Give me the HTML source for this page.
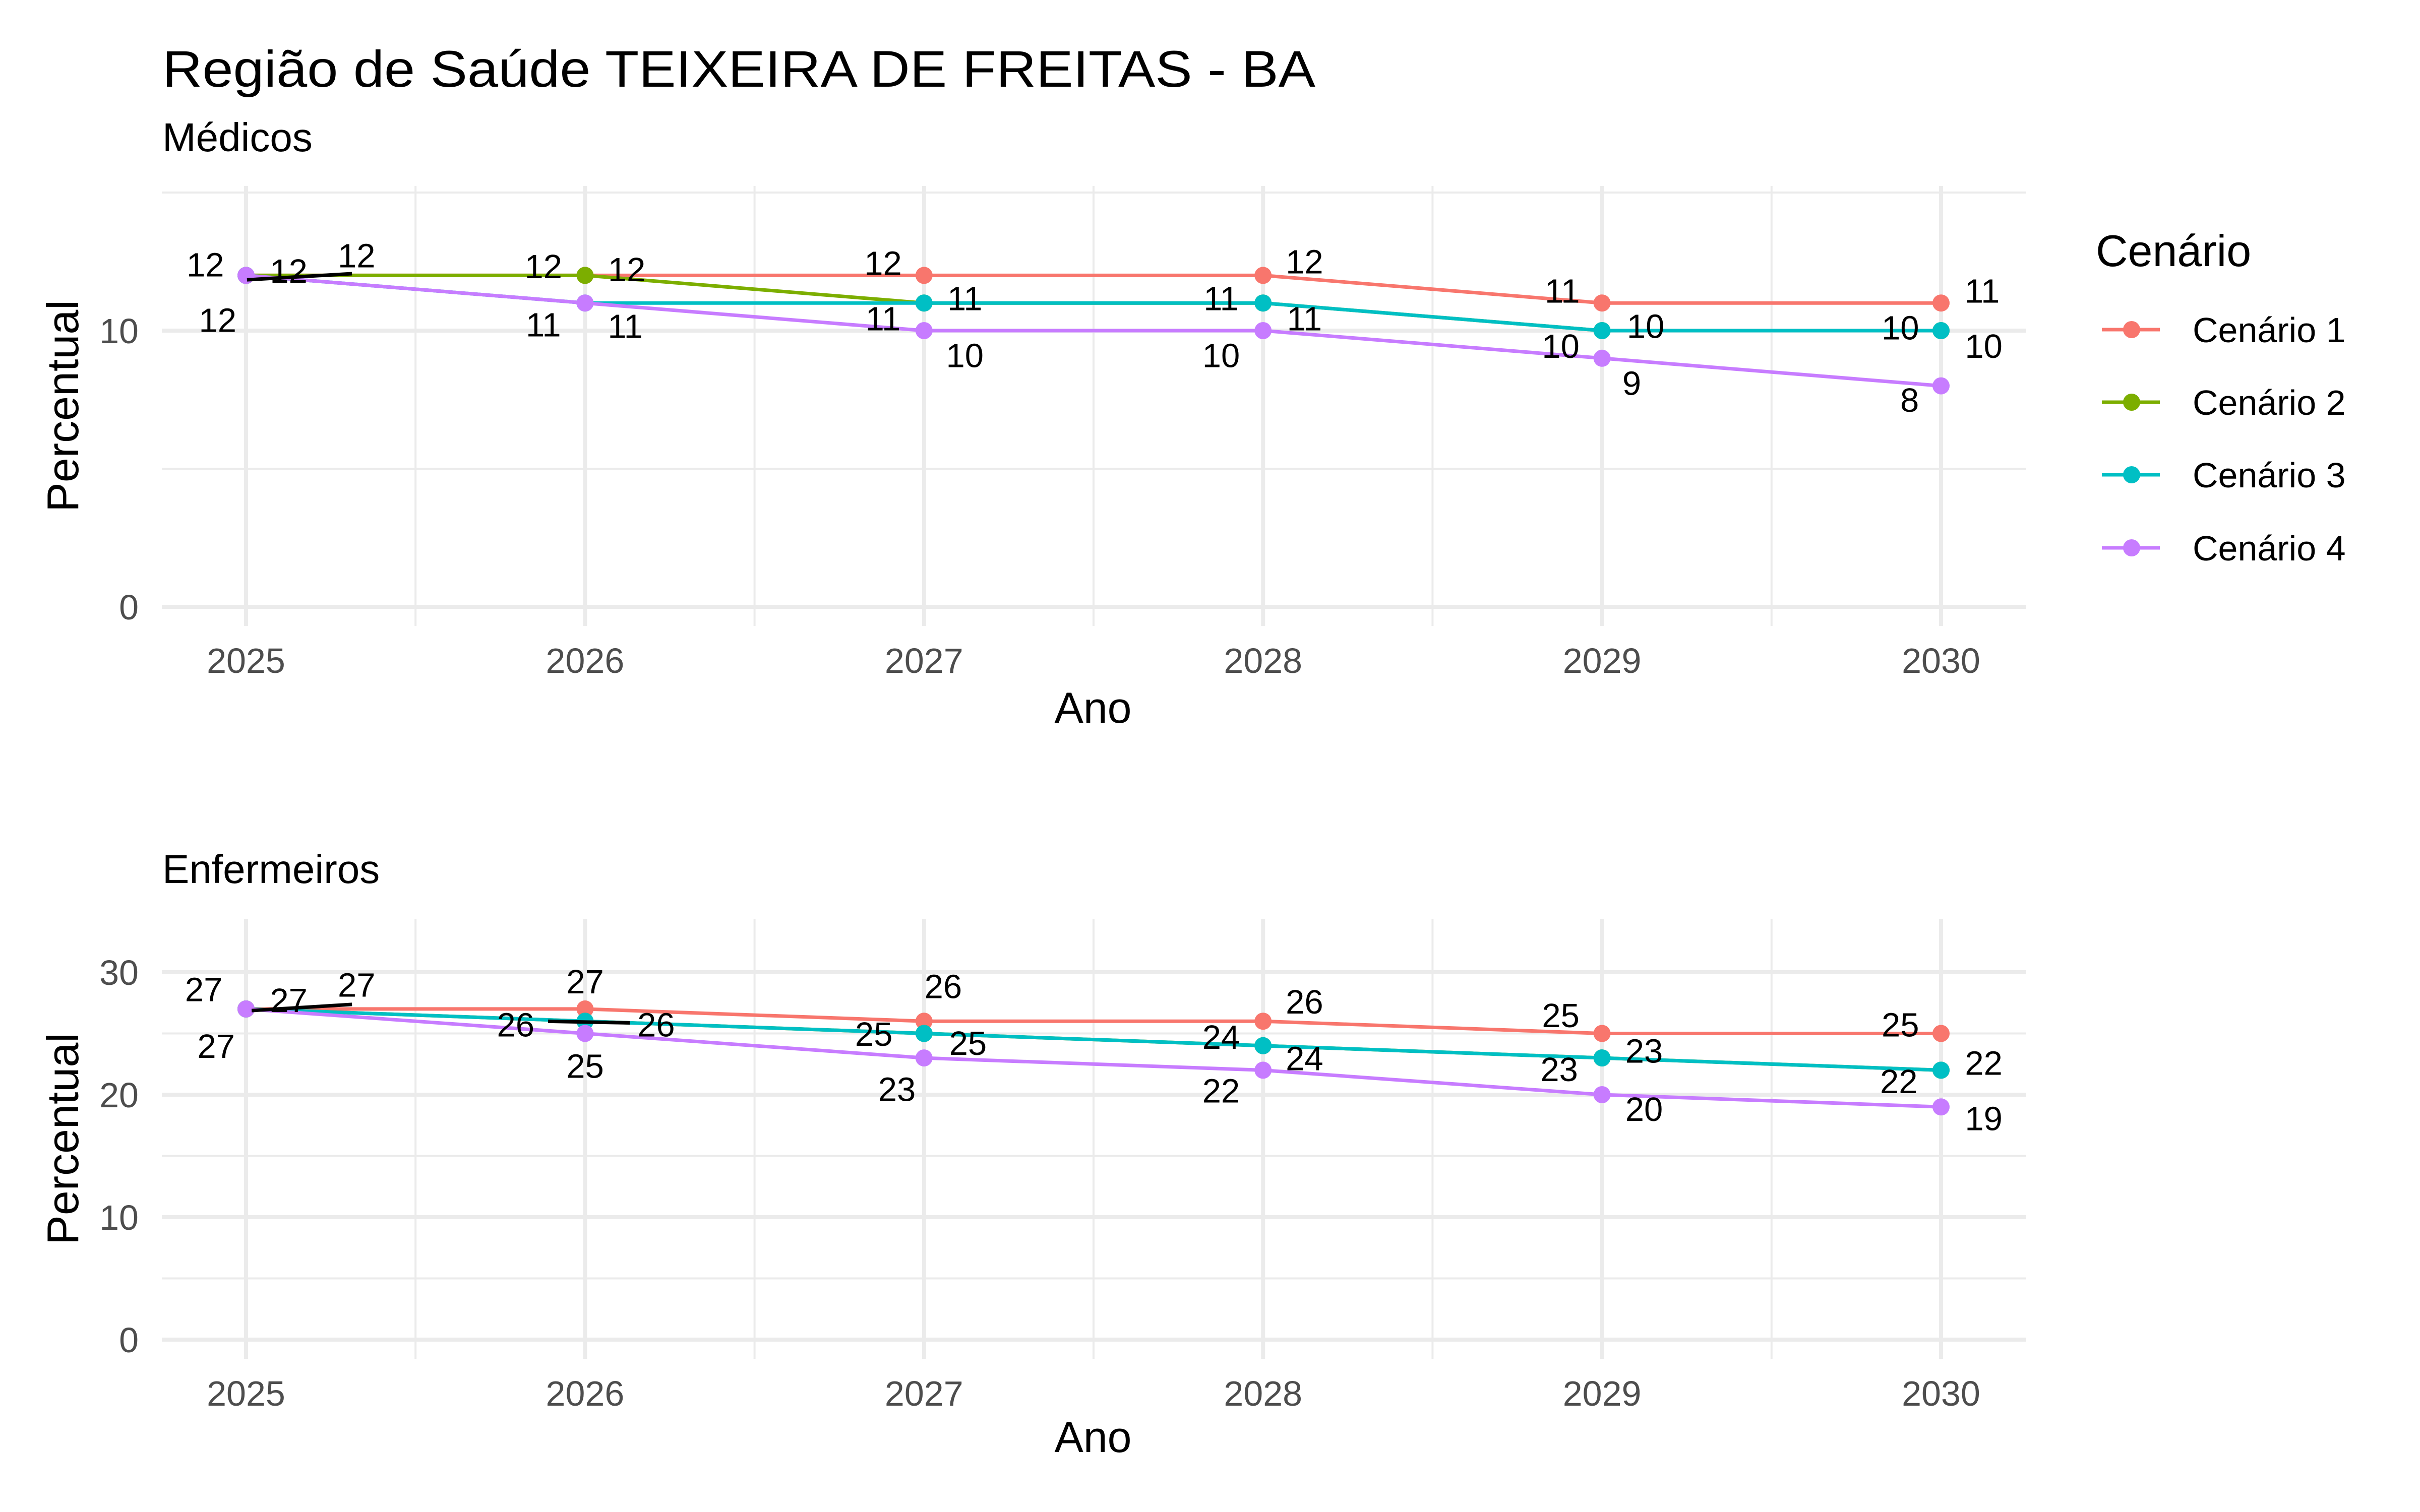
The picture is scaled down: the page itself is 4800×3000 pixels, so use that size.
<!DOCTYPE html>
<html><head><meta charset="utf-8"><style>
html,body{margin:0;padding:0;background:#fff;}
svg{display:block;font-family:"Liberation Sans",sans-serif;}
</style></head><body>
<svg id="chart" width="4800" height="3000" viewBox="0 0 4800 3000">
<rect width="4800" height="3000" fill="#fff"/>
<text x="322" y="172" font-size="102" fill="#000" textLength="2287" lengthAdjust="spacingAndGlyphs">Região de Saúde TEIXEIRA DE FREITAS - BA</text>
<g id="legend">
<text x="4157" y="528" font-size="88" fill="#000">Cenário</text>
</g>
</svg>
<script>
const years = [2025, 2026, 2027, 2028, 2029, 2030];
const seriesNames = ["Cenário 1", "Cenário 2", "Cenário 3", "Cenário 4"];
const colors = ["#F8766D", "#7CAE00", "#00BFC4", "#C77CFF"];
const medC1 = [12, 12, 12, 12, 11, 11];
const medC2 = [12, 12, 11, 11, 10, 10];
const medC3 = [12, 11, 11, 11, 10, 10];
const medC4 = [12, 11, 10, 10, 9, 8];
const enfC1 = [27, 27, 26, 26, 25, 25];
const enfC2 = [27, 26, 25, 24, 23, 22];
const enfC3 = [27, 26, 25, 24, 23, 22];
const enfC4 = [27, 25, 23, 22, 20, 19];
const medTicks = [0, 10];
const enfTicks = [0, 10, 20, 30];

const NS = "http://www.w3.org/2000/svg";
const svg = document.getElementById("chart");
function el(tag, attrs, parent) {
  const e = document.createElementNS(NS, tag);
  for (const k in attrs) e.setAttribute(k, attrs[k]);
  (parent || svg).appendChild(e);
  return e;
}
const X0 = 488, XSTEP = 672.4;
function xScale(yr) { return X0 + (yr - years[0]) * XSTEP; }

function panel(cfg) {
  const g = el("g", {});
  
  
  const y = v => cfg.y0 - v * cfg.k;
  const L = 321, R = 4018;
  for (let v = cfg.minorStart; v <= cfg.max; v += 10) {
    const ln = el("line", {x1: L, x2: R, y1: y(v), y2: y(v), stroke: "#ebebeb", "stroke-width": 4}, g);
    
    
  }
  for (let i = 0; i < years.length - 1; i++) {
    const xm = (xScale(years[i]) + xScale(years[i + 1])) / 2;
    const ln = el("line", {x1: xm, x2: xm, y1: cfg.top, y2: cfg.bottom, stroke: "#ebebeb", "stroke-width": 4}, g);
    
    
  }
  cfg.ticks.forEach(t => {
    const ln = el("line", {x1: L, x2: R, y1: y(t), y2: y(t), stroke: "#ebebeb", "stroke-width": 8}, g);
    
    
    const tx = el("text", {x: 275, y: y(t) + 25, "font-size": 70, fill: "#4d4d4d", "text-anchor": "end"}, g);
    tx.textContent = t;
    
    
  });
  years.forEach(yr => {
    const ln = el("line", {x1: xScale(yr), x2: xScale(yr), y1: cfg.top, y2: cfg.bottom, stroke: "#ebebeb", "stroke-width": 8}, g);
    
    
    const tx = el("text", {x: xScale(yr), y: cfg.tickY + 25, "font-size": 70, fill: "#4d4d4d", "text-anchor": "middle"}, g);
    tx.textContent = yr;
    
    
  });
  const st = el("text", {x: 322, y: cfg.subY + 28, "font-size": 80, fill: "#000"}, g);
  st.textContent = cfg.subtitle;
  
  
  const xt = el("text", {x: 2168, y: cfg.anoY + 30, "font-size": 86, fill: "#000", "text-anchor": "middle"}, g);
  xt.textContent = "Ano";
  
  
  const yt = el("text", {x: 0, y: 0, "font-size": 88, fill: "#000", "text-anchor": "middle", transform: `translate(155,${(cfg.top + cfg.bottom) / 2}) rotate(-90)`}, g);
  yt.textContent = "Percentual";
  
  
  cfg.series.forEach((vals, si) => {
    const pts = vals.map((v, i) => xScale(years[i]) + "," + y(v)).join(" ");
    const pl = el("polyline", {points: pts, fill: "none", stroke: colors[si], "stroke-width": 7, "stroke-linejoin": "round"}, g);
    
    
    vals.forEach((v, i) => {
      const c = el("circle", {cx: xScale(years[i]), cy: y(v), r: 17, fill: colors[si]}, g);
      
      
    });
  });
  cfg.segs.forEach(s => {
    const ln = el("line", {x1: s[0] * 3.062, y1: s[1] * 3.046 + 13, x2: s[2] * 3.062, y2: s[3] * 3.046 + 13, stroke: "#000", "stroke-width": 7}, g);
    
    
  });
  cfg.labels.forEach(lb => {
    const val = cfg.series[lb[0]][lb[1]];
    const tx = el("text", {x: lb[2] * 3.062, y: lb[3] * 3.046 + 13 + 24, "font-size": 67, fill: "#000", "text-anchor": "middle"}, g);
    tx.textContent = val;
    
    
  });
}

panel({name: "medicos", subtitle: "Médicos", series: [medC1, medC2, medC3, medC4], ticks: medTicks,
  y0: 1204, k: 54.8, minorStart: 5, max: 15, top: 369, bottom: 1242, tickY: 1310, subY: 272, anoY: 1404,
  segs: [[160, 178, 228, 174]],
  labels: [[0,0,133,168],[1,0,187,172],[2,0,231,162],[3,0,141,204],
    [0,1,352,169],[1,1,406,171],[2,1,352,207],[3,1,405,208],
    [0,2,572,167],[2,2,625,190],[1,2,572,203],[3,2,625,227],
    [0,3,845,166],[2,3,791,190],[1,3,845,203],[3,3,791,227],
    [0,4,1012,185],[2,4,1066,208],[1,4,1011,221],[3,4,1057,245],
    [0,5,1284,185],[2,5,1231,209],[1,5,1285,221],[3,5,1237,256]]});

panel({name: "enfermeiros", subtitle: "Enfermeiros", series: [enfC1, enfC2, enfC3, enfC4], ticks: enfTicks,
  y0: 2658, k: 24.3, minorStart: 5, max: 25, top: 1823, bottom: 2696, tickY: 2764, subY: 1724, anoY: 2851,
  segs: [[163, 654, 228, 650], [355, 661, 408, 662]],
  labels: [[0,0,132,640],[1,0,187,647],[2,0,231,637],[3,0,140,677],
    [0,1,379,635],[1,1,334,663],[2,1,425,663],[3,1,379,690],
    [0,2,611,638],[1,2,566,669],[2,2,627,675],[3,2,581,705],
    [0,3,845,648],[1,3,791,671],[2,3,845,685],[3,3,791,706],
    [0,4,1011,657],[2,4,1065,680],[1,4,1010,692],[3,4,1065,718],
    [0,5,1231,663],[2,5,1285,688],[1,5,1230,700],[3,5,1285,724]]});

const lg = document.getElementById("legend");
const legY = [654, 798, 942, 1087];
seriesNames.forEach((n, i) => {
  const ln = el("line", {x1: 4169, x2: 4284, y1: legY[i], y2: legY[i], stroke: colors[i], "stroke-width": 7}, lg);
  
  
  const c = el("circle", {cx: 4228, cy: legY[i], r: 17, fill: colors[i]}, lg);
  
  
  const t = el("text", {x: 4349, y: legY[i] + 25, "font-size": 70, fill: "#000"}, lg);
  t.textContent = n;
  
  
});
</script>
</body></html>
